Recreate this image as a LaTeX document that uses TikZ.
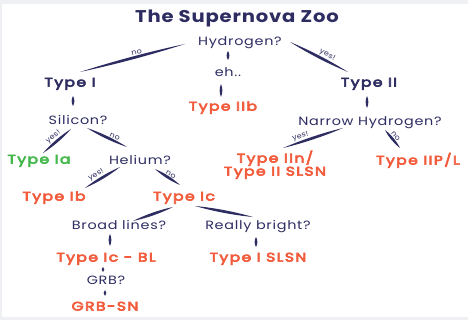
\documentclass[tikz,border=0pt]{standalone}
\usepackage{fontspec}
\setmainfont{Poppins}
\newfontfamily\qfont[FakeStretch=1.2, LetterSpace=6]{Poppins}
\newfontfamily\tfont[FakeStretch=1.25, LetterSpace=11, FakeBold=5]{Poppins}
\newfontfamily\titfont[FakeStretch=1.15, LetterSpace=5]{Poppins}
\newfontfamily\labfont[FakeStretch=1.1, LetterSpace=4]{Poppins}
\usetikzlibrary{calc}
\definecolor{navy}{HTML}{2E2D62}
\definecolor{sorange}{HTML}{F25B3B}
\definecolor{sgreen}{HTML}{44B84B}
\definecolor{framegrey}{HTML}{EEF0F3}
\tikzset{
  base/.style={inner sep=1pt, text depth=0pt, text height=0.72em},
  question/.style={base, text=navy, font=\qfont\fontsize{12}{13}\selectfont},
  typenavy/.style={base, text=navy, font=\tfont\fontsize{12.5}{11.5}\selectfont},
  typeorange/.style={base, text=sorange, font=\tfont\fontsize{12.5}{11.5}\selectfont},
  typegreen/.style={base, text=sgreen, font=\tfont\fontsize{12.5}{11.5}\selectfont},
  titlestyle/.style={base, text=navy, font=\titfont\fontsize{17}{18}\selectfont\bfseries},
  edgelab/.style={sloped, above=1.8pt, inner sep=0pt, text=navy, font=\labfont\fontsize{7.2}{8}\selectfont},
}
% #1 node A, #2 offset at A, #3 node B, #4 offset at B, #5 label, #6 label position
\newcommand\brush[6]{%
  \path ($(#1)+(#2)$) coordinate (bA) ($(#3)+(#4)$) coordinate (bB);
  \fill[navy] (bA) .. controls ($(bA)!0.33!(bB)!1.8pt!90:(bB)$) and ($(bA)!0.67!(bB)!1.8pt!90:(bB)$) .. (bB)
     .. controls ($(bA)!0.67!(bB)!1.8pt!-90:(bB)$) and ($(bA)!0.33!(bB)!1.8pt!-90:(bB)$) .. (bA) -- cycle;
  \path (bA) -- (bB) node[edgelab, pos=#6]{#5};
}
\begin{document}
\begin{tikzpicture}[x=1pt, y=-1pt]
\path[use as bounding box, fill=framegrey] (0,0) rectangle (468,320);
\fill[white] (2,4) rectangle (468,317);

\node[titlestyle] (title) at (237,19) {The Supernova Zoo};
\node[question] (hyd) at (240,42) {Hydrogen?};
\node[question] (eh) at (228,73) {eh..};
\node[typenavy] (t1) at (70,83) {Type I};
\node[typenavy] (t2) at (369,83) {Type II};
\node[typeorange] (t2b) at (223,107) {Type IIb};
\node[question] (sil) at (78,121) {Silicon?};
\node[question] (nh) at (370,122) {Narrow Hydrogen?};
\node[typegreen] (t1a) at (39,160) {Type Ia};
\node[question] (hel) at (140,161) {Helium?};
\node[typeorange, align=center] (t2n) at (275,172) {Type IIn/\\Type II SLSN};
\node[typeorange] (t2pl) at (418,161) {Type IIP/L};
\node[typeorange] (t1b) at (54,197) {Type Ib};
\node[typeorange] (t1c) at (184,197) {Type Ic};
\node[question] (broad) at (119,226) {Broad lines?};
\node[question] (bright) at (258,226) {Really bright?};
\node[typeorange] (t1cbl) at (106,258) {Type Ic - BL};
\node[typeorange] (t1sl) at (258,258) {Type I SLSN};
\node[question] (grb) at (106,281) {GRB?};
\node[typeorange] (grbsn) at (105,307) {GRB-SN};

\brush{hyd}{-55,2}{t1}{10,-11}{no}{0.45}
\brush{hyd}{50,0}{t2}{-21,-11}{yes!}{0.6}
\brush{hyd}{-12,9}{eh}{0,-13}{}{0.5}
\brush{eh}{-7,11}{t2b}{-2,-10}{}{0.5}
\brush{t1}{3,13}{sil}{-5,-15}{}{0.5}
\brush{t2}{-2,13}{nh}{-3,-14}{}{0.5}
\brush{sil}{-7,8}{t1a}{4,-7}{yes!}{0.5}
\brush{sil}{9,7}{hel}{-13,-14}{no}{0.65}
\brush{hel}{-20,6}{t1b}{31,-9}{yes!}{0.6}
\brush{hel}{15,8}{t1c}{-4,-12}{no}{0.55}
\brush{nh}{-27,6}{t2n}{8,-24}{yes!}{0.68}
\brush{nh}{15,8}{t2pl}{-18,-13}{no}{0.5}
\brush{t1c}{-11,10}{broad}{14,-5}{}{0.5}
\brush{t1c}{11,9}{bright}{-5,-9}{}{0.5}
\brush{broad}{-9,8}{t1cbl}{4,-12}{}{0.5}
\brush{bright}{-2,11}{t1sl}{-2,-11}{}{0.5}
\brush{t1cbl}{-3,9}{grb}{-3,-9}{}{0.5}
\brush{grb}{-1,9}{grbsn}{0,-11}{}{0.5}
\end{tikzpicture}
\end{document}
